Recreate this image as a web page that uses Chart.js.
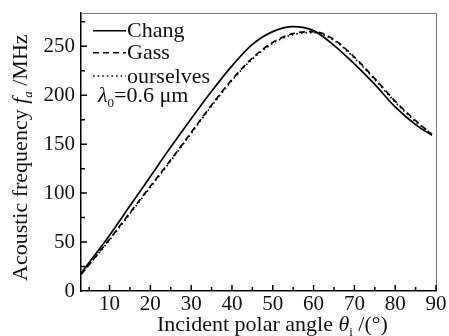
<!DOCTYPE html>
<html>
<head>
<meta charset="utf-8">
<script src="https://cdn.jsdelivr.net/npm/chart.js@4"></script>
<style>
html,body{margin:0;padding:0;background:#fff;}
canvas{display:block;}
</style>
</head>
<body>
<canvas id="c" width="449" height="336"></canvas>
<script>
const angles = [3,5,10,15,20,25,30,35,40,45,50,55,60,65,70,75,80,85,89];
const chang = [18,29,57,87,117,147,176,204,230,252,265,270,266,251,232,211,188,170,159];
const gass  = [17,27,53,80,107,134,162,190,216,238,254,263,265,257,239,217,194,174,160];
const ours  = [17,27,52,79,106,133,161,189,215,237,253,262,264,256,238,216,193,173,160];
const xTicks = [10,20,30,40,50,60,70,80,90];
const yTicks = [0,50,100,150,200,250];
const seriesNames = ['Chang','Gass','ourselves'];

const FONT = '"Liberation Serif", "Times New Roman", serif';
const pts = arr => arr.map((v,i)=>({x:angles[i], y:v}));

function drawRuns(ctx, runs, x, y){
  let cx = x;
  for(const r of runs){
    ctx.font = r.font;
    ctx.fillText(r.t, cx, y + (r.dy||0));
    cx += ctx.measureText(r.t).width;
  }
}

const decor = {
  id:'decor',
  afterDraw(chart){
    const ctx = chart.ctx, a = chart.chartArea;
    const xs = chart.scales.x, ys = chart.scales.y;
    ctx.save();
    // top / right frame
    ctx.strokeStyle = '#777'; ctx.lineWidth = 1;
    ctx.beginPath();
    ctx.moveTo(a.left, a.top+0.5); ctx.lineTo(a.right+0.5, a.top+0.5); ctx.lineTo(a.right+0.5, a.bottom);
    ctx.stroke();
    // inward ticks
    ctx.strokeStyle = '#000'; ctx.lineWidth = 1.5;
    ctx.beginPath();
    for(let v=5; v<=90; v+=5){
      const p = xs.getPixelForValue(v);
      const L = v%10===0 ? 6 : 4;
      ctx.moveTo(p, a.bottom); ctx.lineTo(p, a.bottom-L);
    }
    for(let v=25; v<=275; v+=25){
      const p = ys.getPixelForValue(v);
      const L = v%50===0 ? 6 : 4;
      ctx.moveTo(a.left, p); ctx.lineTo(a.left+L, p);
    }
    ctx.stroke();
    // legend
    ctx.fillStyle = '#111'; ctx.strokeStyle = '#000'; ctx.lineWidth = 1.6;
    ctx.textBaseline = 'alphabetic'; ctx.textAlign = 'left';
    const rows = [[30.7,[]],[52.7,[6,4]],[76,[1.6,3]]];
    rows.forEach((r,i)=>{
      ctx.setLineDash(r[1]);
      ctx.beginPath(); ctx.moveTo(93, r[0]); ctx.lineTo(126, r[0]); ctx.stroke();
      ctx.setLineDash([]);
      ctx.font = '22px '+FONT;
      ctx.fillText(seriesNames[i], 127, r[0]+6.5);
    });
    drawRuns(ctx, [
      {t:'λ', font:'italic 22px '+FONT},
      {t:'0', font:'13px '+FONT, dy:5},
      {t:'=0.6 μm', font:'22px '+FONT}
    ], 98, 101.5);
    // x title
    drawRuns(ctx, [
      {t:'Incident polar angle ', font:'22px '+FONT},
      {t:'θ', font:'italic 22px '+FONT},
      {t:'i', font:'13px '+FONT, dy:5},
      {t:' /(°)', font:'22px '+FONT}
    ], 157, 331);
    // y title
    ctx.translate(27, 281); ctx.rotate(-Math.PI/2);
    drawRuns(ctx, [
      {t:'Acoustic frequency ', font:'22px '+FONT},
      {t:'f', font:'italic 22px '+FONT},
      {t:'a', font:'italic 13px '+FONT, dy:5},
      {t:' /MHz', font:'22px '+FONT}
    ], 0, 0);
    ctx.restore();
  }
};

const ds = (label, data, dash) => ({
  label, data: pts(data), borderColor:'#000', borderWidth:1.7, borderDash:dash,
  pointRadius:0, fill:false, cubicInterpolationMode:'monotone'
});

new Chart(document.getElementById('c'), {
  type:'line',
  data:{ datasets:[ ds(seriesNames[0], chang, []), ds(seriesNames[1], gass, [6,4]), ds(seriesNames[2], ours, [1.6,3]) ] },
  options:{
    responsive:false, animation:false, devicePixelRatio:1,
    layout:{padding:{top:13, right:13, left:0, bottom:0}},
    plugins:{legend:{display:false}, tooltip:{enabled:false}},
    scales:{
      x:{ type:'linear', min:3, max:90,
        grid:{display:false, drawTicks:false},
        border:{display:true, color:'#000', width:1.5},
        afterBuildTicks(s){ s.ticks = xTicks.map(v=>({value:v})); },
        afterFit(s){ s.height = 45; s.paddingLeft = 0; s.paddingRight = 0; },
        ticks:{ font:{family:FONT, size:21}, color:'#111', padding:1, maxRotation:0, autoSkip:false }
      },
      y:{ type:'linear', min:0, max:284,
        grid:{display:false, drawTicks:false},
        border:{display:true, color:'#000', width:1.5},
        afterBuildTicks(s){ s.ticks = yTicks.map(v=>({value:v})); },
        afterFit(s){ s.width = 81; s.paddingTop = 0; s.paddingBottom = 0; },
        ticks:{ font:{family:FONT, size:21}, color:'#111', padding:6 }
      }
    }
  },
  plugins:[decor]
});
</script>
</body>
</html>
